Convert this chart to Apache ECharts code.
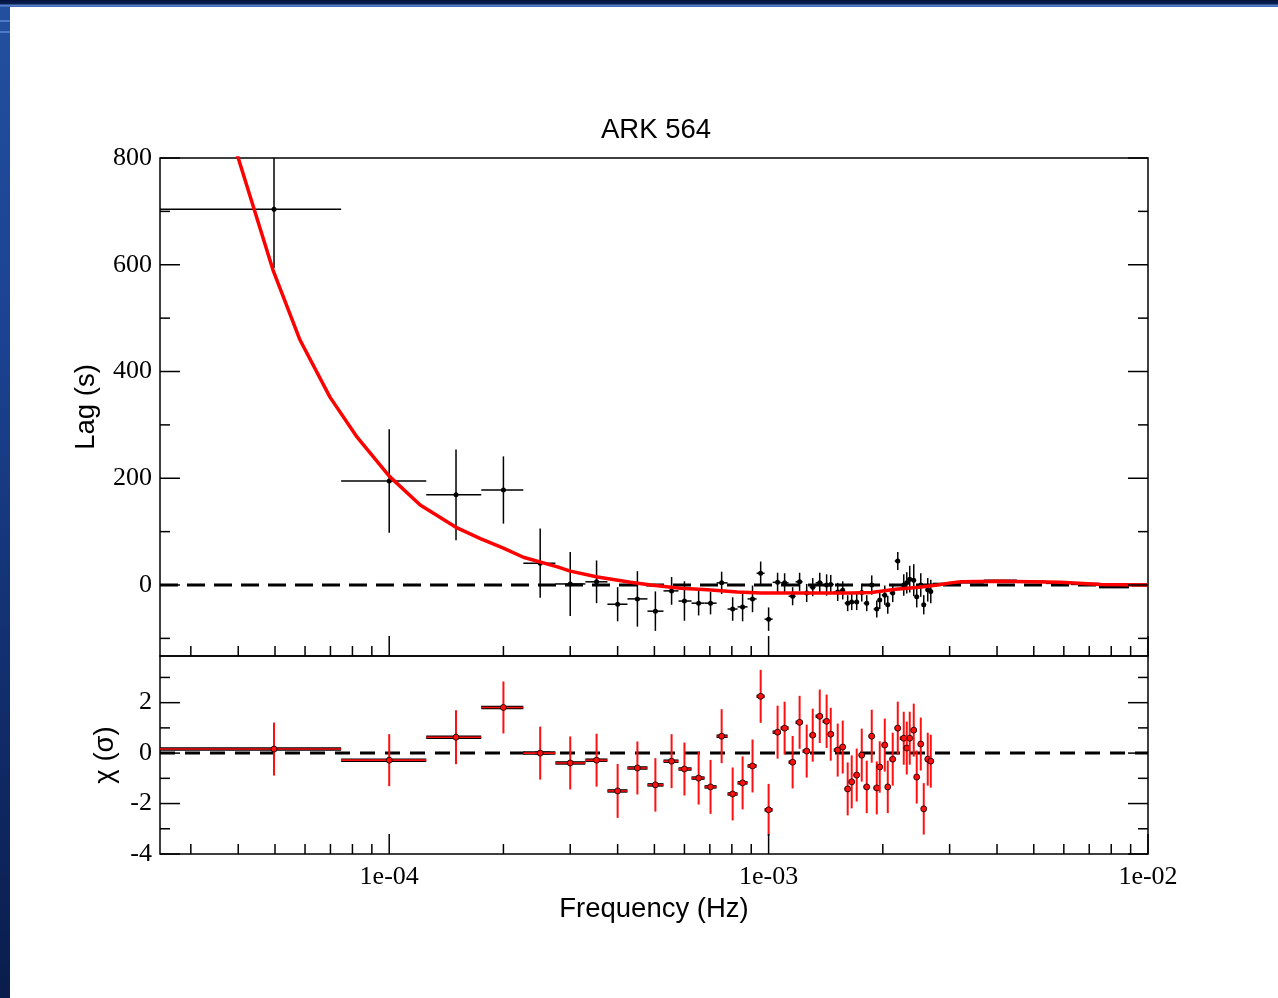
<!DOCTYPE html>
<html>
<head>
<meta charset="utf-8">
<title>ARK 564 lag-frequency spectrum</title>
<script src="https://cdn.jsdelivr.net/npm/echarts@6/dist/echarts.min.js"></script>
<style>
  html, body { margin: 0; padding: 0; width: 1278px; height: 998px; overflow: hidden; background: #fff; }
  #chart { position: absolute; left: 0; top: 0; width: 1278px; height: 998px; }
  .slide-left { position: absolute; left: 0; top: 0; width: 10px; height: 998px;
    background: linear-gradient(to bottom, #22509f 0%, #1b4290 35%, #102a66 75%, #0a1d4c 100%); }
  .slide-top { position: absolute; left: 0; top: 0; width: 1278px; height: 7px;
    background: linear-gradient(to bottom, #04123a 0px, #0a1f55 4px, #5a86cc 5px, #3d67b2 7px); }
  .slide-stripe { position: absolute; left: 0; width: 10px; height: 2px; background: #4c7ac6; }
</style>
</head>
<body>
<div id="chart"></div>
<div class="slide-left"></div>
<div class="slide-stripe" style="top:20px"></div>
<div class="slide-stripe" style="top:31px"></div>
<div class="slide-top"></div>
<script>
// Axis extents
const X_MIN = 2.488e-5, X_MAX = 1e-2;
const LAG_MIN = -133, LAG_MAX = 800;
const CHI_MIN = -4, CHI_MAX = 3.85;

// Tick positions
const freqMajorTicks = [1e-4, 1e-3, 1e-2];
const freqMinorTicks = [3e-5, 4e-5, 5e-5, 6e-5, 7e-5, 8e-5, 9e-5,
                        2e-4, 3e-4, 4e-4, 5e-4, 6e-4, 7e-4, 8e-4, 9e-4,
                        2e-3, 3e-3, 4e-3, 5e-3, 6e-3, 7e-3, 8e-3, 9e-3];
const lagMajorTicks = [0, 200, 400, 600, 800];
const lagMinorTicks = [-100, 100, 300, 500, 700];
const chiMajorTicks = [-4, -2, 0, 2];
const chiMinorTicks = [-3, -1, 1, 3];

// Measured lags: bin centre (Hz), lag (s), 1-sigma error (s)
const lagFreq = [4.97e-5, 1.0e-4, 1.50e-4, 2.0e-4, 2.50e-4, 3.0e-4, 3.52e-4, 4.0e-4, 4.51e-4, 5.03e-4,
                 5.55e-4, 6.0e-4, 6.54e-4, 7.03e-4, 7.52e-4, 8.04e-4, 8.54e-4, 9.07e-4, 9.53e-4, 1.0e-3,
                 1.056e-3, 1.102e-3, 1.157e-3, 1.207e-3, 1.26e-3, 1.307e-3, 1.364e-3, 1.422e-3, 1.458e-3, 1.521e-3,
                 1.568e-3, 1.616e-3, 1.656e-3, 1.707e-3, 1.76e-3, 1.814e-3, 1.87e-3, 1.928e-3, 1.963e-3, 2.024e-3,
                 2.061e-3, 2.124e-3, 2.19e-3, 2.271e-3, 2.313e-3, 2.355e-3, 2.413e-3, 2.457e-3, 2.518e-3, 2.564e-3,
                 2.627e-3, 2.676e-3];
// Frequency bin boundaries (one more than the number of bins)
const binEdges = [2.488e-5, 7.47e-5, 1.252e-4, 1.748e-4, 2.257e-4, 2.742e-4, 3.289e-4, 3.76e-4, 4.246e-4, 4.794e-4,
                  5.284e-4, 5.788e-4, 6.264e-4, 6.779e-4, 7.292e-4, 7.795e-4, 8.283e-4, 8.801e-4, 9.296e-4, 9.759e-4,
                  1.0247e-3, 1.0757e-3, 1.129e-3, 1.178e-3, 1.229e-3, 1.283e-3, 1.33e-3, 1.388e-3, 1.44e-3, 1.485e-3,
                  1.539e-3, 1.587e-3, 1.636e-3, 1.676e-3, 1.729e-3, 1.781e-3, 1.836e-3, 1.892e-3, 1.939e-3, 1.987e-3,
                  2.035e-3, 2.085e-3, 2.15e-3, 2.217e-3, 2.285e-3, 2.327e-3, 2.384e-3, 2.428e-3, 2.488e-3, 2.534e-3,
                  2.596e-3, 2.644e-3, 2.709e-3];
const lagVal = [704, 195, 169, 178, 41, 2, 6, -36, -26, -49,
                -11, -30, -34, -34, 4, -45, -41, -26, 22, -64,
                5, 4, -21, 6, -15, -4, 4, 0, 1, -13,
                -10, -34, -32, -32, -14, -34, 0, -45, -28, -19,
                -37, -15, 45, 0, 4, 11, 9, -22, 0, -37,
                -9, -12];
const lagErr = [110, 97, 85, 63, 65, 60, 40, 32, 52, 37,
                26, 37, 23, 21, 21, 22, 27, 25, 22, 22,
                18, 18, 17, 17, 17, 17, 19, 20, 18, 17,
                17, 15, 15, 15, 17, 15, 18, 16, 17, 18,
                17, 17, 17, 20, 20, 25, 30, 20, 22, 18,
                22, 22];

// Residuals in units of sigma
const chiVal = [0.16, -0.28, 0.63, 1.81, 0.0, -0.39, -0.28, -1.5, -0.59, -1.26,
                -0.32, -0.63, -0.99, -1.34, 0.67, -1.62, -1.18, -0.51, 2.25, -2.25,
                0.83, 0.99, -0.36, 1.22, 0.08, 0.71, 1.46, 1.26, 0.75, 0.12,
                0.24, -1.42, -1.14, -0.87, -0.08, -1.34, 0.67, -1.38, -0.55, 0.32,
                -1.34, -0.24, 0.99, 0.59, 0.2, 0.59, 0.91, -0.95, 0.36, -2.21,
                -0.24, -0.32];
const chiErr = [1.05, 1.03, 1.07, 1.03, 1.05, 1.05, 1.05, 1.07, 1.05, 1.06,
                1.07, 1.05, 1.05, 1.07, 1.07, 1.05, 1.05, 1.05, 1.05, 1.03,
                1.05, 1.05, 1.04, 1.05, 1.05, 1.05, 1.06, 1.06, 1.05, 1.05,
                1.05, 1.05, 1.05, 1.05, 1.05, 1.04, 1.05, 1.05, 1.02, 1.05,
                1.04, 1.05, 1.05, 1.05, 1.05, 1.05, 1.05, 1.05, 1.05, 1.02,
                1.05, 1.05];

// Best-fit model lag curve
const modelFreq = [3.5e-5, 4.0e-5, 4.94e-5, 5.82e-5, 6.98e-5, 8.23e-5, 1.0e-4, 1.207e-4, 1.51e-4, 1.739e-4,
                   2.0e-4, 2.257e-4, 2.776e-4, 3.0e-4, 3.54e-4, 4.325e-4, 4.89e-4, 5.86e-4, 6.9e-4, 8.28e-4,
                   9.53e-4, 1.215e-3, 1.646e-3, 1.866e-3, 2.162e-3, 2.49e-3, 2.79e-3, 3.02e-3, 3.21e-3, 4.09e-3,
                   5.89e-3, 7.52e-3, 1.0e-2];
const modelLag = [930, 800, 590, 459, 352, 277, 204, 150, 107, 87,
                  69, 52, 34, 26, 15, 5, 0, -6, -9, -13,
                  -15, -15, -15, -14, -8, -4, 0, 4, 6, 7,
                  5, 1, 0];

// Binned model beyond the last measured bin
const modelBinEdges = [2.709e-3, 3.211e-3, 3.693e-3, 4.512e-3, 5.383e-3, 6.264e-3, 7.425e-3, 8.911e-3, 1.0e-2];
const modelBinLag = [2, 5, 8, 6, 4, 2, -4, 0];

const SERIF = '"Liberation Serif", "Times New Roman", serif';
const SANS = '"Liberation Sans", Arial, Helvetica, sans-serif';

function powerLabel(v) {
  const e = Math.log10(v);
  const r = Math.round(e);
  if (Math.abs(e - r) > 1e-6) return '';
  return '1e' + (r < 0 ? '-' : '+') + String(Math.abs(r)).padStart(2, '0');
}

function tickSeries(xIdx, yIdx, points, dx, dy) {
  return {
    type: 'custom', xAxisIndex: xIdx, yAxisIndex: yIdx, silent: true, z: 10,
    data: points,
    renderItem(params, api) {
      const p = api.coord([api.value(0), api.value(1)]);
      return {
        type: 'line',
        shape: { x1: p[0], y1: p[1], x2: p[0] + dx, y2: p[1] + dy },
        style: { stroke: '#000', lineWidth: 1.5 }
      };
    }
  };
}

// Error-bar marks: [centre, value, binLow, binHigh, error]
function errorBarRender(style) {
  return function (params, api) {
    const f = api.value(0), y = api.value(1), lo = api.value(2), hi = api.value(3), e = api.value(4);
    const pL = api.coord([lo, y]), pR = api.coord([hi, y]);
    const pT = api.coord([f, y + e]), pB = api.coord([f, y - e]);
    const c = api.coord([f, y]);
    const children = [];
    if (style.underBar) {
      children.push({ type: 'line', shape: { x1: pL[0], y1: pL[1], x2: pR[0], y2: pR[1] },
                      style: { stroke: style.underBar, lineWidth: 3.5 } });
    }
    children.push({ type: 'line', shape: { x1: pL[0], y1: pL[1], x2: pR[0], y2: pR[1] },
                    style: { stroke: style.color, lineWidth: style.hWidth } });
    children.push({ type: 'line', shape: { x1: pT[0], y1: pT[1], x2: pB[0], y2: pB[1] },
                    style: { stroke: style.color, lineWidth: style.vWidth } });
    children.push({ type: 'circle', shape: { cx: c[0], cy: c[1], r: style.r },
                    style: { fill: style.color, stroke: style.dotStroke || style.color, lineWidth: style.dotStrokeWidth || 0 } });
    return { type: 'group', children };
  };
}

const lagData = lagFreq.map((f, i) => [f, lagVal[i], binEdges[i], binEdges[i + 1], lagErr[i]]);
const chiData = lagFreq.map((f, i) => [f, chiVal[i], binEdges[i], binEdges[i + 1], chiErr[i]]);
const modelData = modelFreq.map((f, i) => [f, modelLag[i]]);
const modelBinData = modelBinLag.map((v, i) => [Math.sqrt(modelBinEdges[i] * modelBinEdges[i + 1]), v, modelBinEdges[i], modelBinEdges[i + 1], 0]);

const chart = echarts.init(document.getElementById('chart'), null, { renderer: 'canvas' });

const option = {
  animation: false,
  backgroundColor: 'transparent',
  graphic: [{
    type: 'text', x: 656, y: 130, z: 20,
    style: { text: 'ARK 564', font: '27.5px ' + SANS, fill: '#000', align: 'center', verticalAlign: 'middle' }
  }],
  grid: [
    { left: 160, top: 158, width: 988, height: 498, show: true, borderColor: '#000', borderWidth: 1.5, backgroundColor: 'transparent' },
    { left: 160, top: 656, width: 988, height: 198, show: true, borderColor: '#000', borderWidth: 1.5, backgroundColor: 'transparent' }
  ],
  xAxis: [
    {
      type: 'log', logBase: 10, gridIndex: 0, min: X_MIN, max: X_MAX,
      axisLine: { show: false }, axisTick: { show: false }, axisLabel: { show: false }, splitLine: { show: false }
    },
    {
      type: 'log', logBase: 10, gridIndex: 1, min: X_MIN, max: X_MAX,
      axisLine: { show: false }, axisTick: { show: false }, splitLine: { show: false },
      axisLabel: { show: true, formatter: powerLabel, fontFamily: SERIF, fontSize: 26, color: '#000', margin: 10 },
      name: 'Frequency (Hz)', nameLocation: 'middle', nameGap: 41,
      nameTextStyle: { fontFamily: SANS, fontSize: 27.5, color: '#000' }
    }
  ],
  yAxis: [
    {
      type: 'value', gridIndex: 0, min: LAG_MIN, max: LAG_MAX,
      axisLine: { show: false }, axisTick: { show: false }, splitLine: { show: false },
      axisLabel: {
        customValues: lagMajorTicks,
        formatter: v => (lagMajorTicks.indexOf(v) >= 0 ? String(v) : ''),
        fontFamily: SERIF, fontSize: 26, color: '#000', margin: 8
      },
      name: 'Lag (s)', nameLocation: 'middle', nameGap: 60,
      nameTextStyle: { fontFamily: SANS, fontSize: 27.5, color: '#000' }
    },
    {
      type: 'value', gridIndex: 1, min: CHI_MIN, max: CHI_MAX,
      axisLine: { show: false }, axisTick: { show: false }, splitLine: { show: false },
      axisLabel: {
        customValues: chiMajorTicks,
        formatter: v => (chiMajorTicks.indexOf(v) >= 0 ? String(v) : ''),
        fontFamily: SERIF, fontSize: 26, color: '#000', margin: 8
      },
      name: 'χ (σ)', nameLocation: 'middle', nameGap: 40,
      nameTextStyle: { fontFamily: SANS, fontSize: 27.5, color: '#000' }
    }
  ],
  series: [
    // zero reference lines
    {
      type: 'line', xAxisIndex: 0, yAxisIndex: 0, data: [[X_MIN, 0], [X_MAX, 0]], symbol: 'none', silent: true, z: 2,
      lineStyle: { color: '#000', width: 3, type: [18, 9] }
    },
    {
      type: 'line', xAxisIndex: 1, yAxisIndex: 1, data: [[X_MIN, 0], [X_MAX, 0]], symbol: 'none', silent: true, z: 2,
      lineStyle: { color: '#000', width: 3, type: [15, 10] }
    },
    // measured lags
    {
      type: 'custom', xAxisIndex: 0, yAxisIndex: 0, clip: true, silent: true, z: 4,
      data: lagData,
      renderItem: errorBarRender({ color: '#000', hWidth: 1.5, vWidth: 1.5, r: 2.5 })
    },
    // binned model at high frequency
    {
      type: 'custom', xAxisIndex: 0, yAxisIndex: 0, clip: true, silent: true, z: 3,
      data: modelBinData,
      renderItem(params, api) {
        const y = api.value(1);
        const pL = api.coord([api.value(2), y]), pR = api.coord([api.value(3), y]);
        return { type: 'line', shape: { x1: pL[0], y1: pL[1], x2: pR[0], y2: pR[1] },
                 style: { stroke: '#000', lineWidth: 2.5 } };
      }
    },
    // model curve
    {
      type: 'line', xAxisIndex: 0, yAxisIndex: 0, data: modelData, symbol: 'none', silent: true, z: 5,
      clip: true, lineStyle: { color: '#ff0000', width: 3.5 }
    },
    // residuals
    {
      type: 'custom', xAxisIndex: 1, yAxisIndex: 1, clip: true, silent: true, z: 4,
      data: chiData,
      renderItem: errorBarRender({ color: '#ff1010', underBar: '#000', hWidth: 1.6, vWidth: 2, r: 3, dotStroke: '#000', dotStrokeWidth: 0.8 })
    },
    // tick marks (inward), top panel
    tickSeries(0, 0, freqMajorTicks.map(f => [f, LAG_MIN]), 0, -20),
    tickSeries(0, 0, freqMinorTicks.map(f => [f, LAG_MIN]), 0, -10),
    tickSeries(0, 0, lagMajorTicks.map(v => [X_MIN, v]), 20, 0),
    tickSeries(0, 0, lagMinorTicks.map(v => [X_MIN, v]), 10, 0),
    tickSeries(0, 0, lagMajorTicks.map(v => [X_MAX, v]), -20, 0),
    tickSeries(0, 0, lagMinorTicks.map(v => [X_MAX, v]), -10, 0),
    // tick marks (inward), residual panel
    tickSeries(1, 1, freqMajorTicks.map(f => [f, CHI_MIN]), 0, -20),
    tickSeries(1, 1, freqMinorTicks.map(f => [f, CHI_MIN]), 0, -10),
    tickSeries(1, 1, chiMajorTicks.map(v => [X_MIN, v]), 20, 0),
    tickSeries(1, 1, chiMinorTicks.map(v => [X_MIN, v]), 10, 0),
    tickSeries(1, 1, chiMajorTicks.map(v => [X_MAX, v]), -20, 0),
    tickSeries(1, 1, chiMinorTicks.map(v => [X_MAX, v]), -10, 0)
  ]
};

chart.setOption(option);
</script>
</body>
</html>
